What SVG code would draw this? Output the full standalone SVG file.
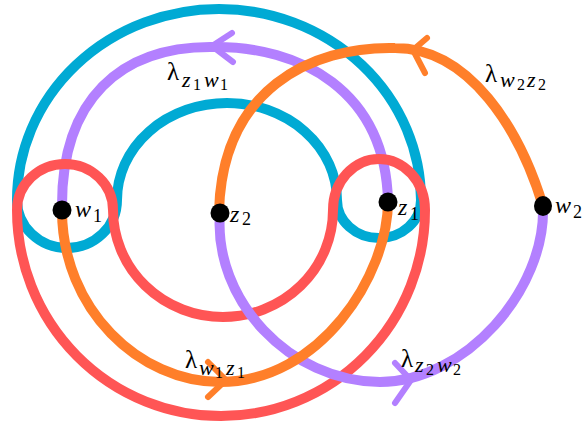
<svg xmlns="http://www.w3.org/2000/svg" width="582" height="428" viewBox="0 0 582 428">
<style>
.c{fill:none;stroke-width:10;stroke-linecap:round;stroke-linejoin:round}
.blue{stroke:#00aad4}
.red{stroke:#ff5555}
.pur{stroke:#b380ff}
.org{stroke:#ff7f2a}
.arr{fill:none;stroke-width:6;stroke-linecap:round;stroke-linejoin:round}
.dot{fill:#000}
text{font-family:"Liberation Serif","DejaVu Serif",serif;fill:#000}
.lam{font-size:25px}
.sl{font-size:22px;font-style:italic}
.sd{font-size:16px}
.nl{font-size:24px;font-style:italic}
.nd{font-size:18px}
</style>
<rect width="582" height="428" fill="#fff"/>
<g id="connectors">
<path id="blue-loop" class="c blue" d="M17,200 A202,191 0 0 1 421,200 A42,38 0 0 1 337,200 A110,97 0 0 0 117,200 A50,48 0 0 1 17,200 Z"/>
<g id="lambda-z1w1">
<path class="c pur" d="M388,201 C385,90 300,46 213,47 C120,46 62,100 62,205"/>
<path class="arr pur" d="M232,33 L212,46 L233,62"/>
<text x="167" y="80"><tspan class="lam">λ</tspan><tspan class="sl" x="182" y="87">z</tspan><tspan class="sd" x="193" y="90">1</tspan><tspan class="sl" x="204" y="87">w</tspan><tspan class="sd" x="220" y="90">1</tspan></text>
</g>
<path id="red-loop" class="c red" d="M17,210 A48,46 0 0 1 113,210 A110,107 0 0 0 333,210 A46,51 0 0 1 425,210 A204,206 0 0 1 17,210 Z"/>
<g id="lambda-z2w2">
<path class="c pur" d="M220,213 C213,300 290,382 380,382 C465,382 546,290 543,206"/>
<path class="arr pur" d="M395,363 L411,380 L395,403"/>
<text x="401" y="367"><tspan class="lam">λ</tspan><tspan class="sl" x="415" y="372">z</tspan><tspan class="sd" x="426" y="375">2</tspan><tspan class="sl" x="437" y="372">w</tspan><tspan class="sd" x="453" y="375">2</tspan></text>
</g>
<g id="lambda-w2z2">
<path class="c org" d="M543,206 C520,130 470,48 395,48 C310,46 222,90 219,212"/>
<path class="arr org" d="M427,38 L413,50 L425,73"/>
<text x="485" y="82"><tspan class="lam">λ</tspan><tspan class="sl" x="500" y="87">w</tspan><tspan class="sd" x="517" y="90">2</tspan><tspan class="sl" x="527" y="87">z</tspan><tspan class="sd" x="538" y="90">2</tspan></text>
</g>
<g id="lambda-w1z1">
<path class="c org" d="M62,210 C62,310 140,382 220,382 C320,382 388,275 388,201"/>
<path class="arr org" d="M208,362 L226,380 L208,397"/>
<text x="185" y="368"><tspan class="lam">λ</tspan><tspan class="sl" x="199" y="375">w</tspan><tspan class="sd" x="215" y="378">1</tspan><tspan class="sl" x="226" y="375">z</tspan><tspan class="sd" x="237" y="378">1</tspan></text>
</g>
</g>
<g id="w1"><circle class="dot" cx="62" cy="210" r="9.5"/><text x="75" y="217"><tspan class="nl">w</tspan><tspan class="nd" x="93" y="222">1</tspan></text></g>
<g id="z1"><circle class="dot" cx="388" cy="202" r="9.5"/><text x="398" y="215"><tspan class="nl">z</tspan><tspan class="nd" x="410" y="220">1</tspan></text></g>
<g id="z2"><circle class="dot" cx="220" cy="213" r="9.5"/><text x="230" y="222"><tspan class="nl">z</tspan><tspan class="nd" x="242" y="225">2</tspan></text></g>
<g id="w2"><ellipse class="dot" cx="543" cy="206" rx="9" ry="10"/><text x="555" y="213"><tspan class="nl">w</tspan><tspan class="nd" x="573" y="218">2</tspan></text></g>
</svg>
